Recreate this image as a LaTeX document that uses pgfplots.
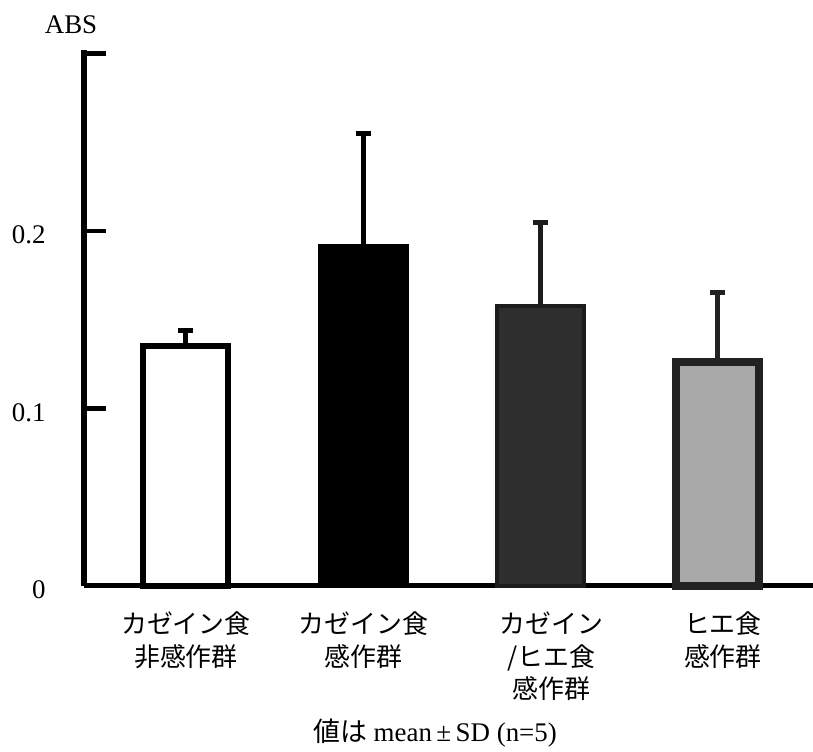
\documentclass[border=0pt]{standalone}
\usepackage{pgfplots}
\pgfplotsset{compat=1.18}
\usepackage{fontspec}
\setmainfont{Liberation Serif}
\newfontfamily\cjk{Noto Sans CJK JP}
\definecolor{darkfill}{HTML}{2E2E2E}
\definecolor{darkedge}{HTML}{1C1C1C}
\definecolor{lightfill}{HTML}{A9A9A9}
\definecolor{lightedge}{HTML}{222222}
\begin{document}
\begin{tikzpicture}
\useasboundingbox (0,0) rectangle (813bp,752bp);
\begin{axis}[
  at={(84bp,166bp)}, anchor=south west,
  x=177.3bp, y=1775bp,
  xmin=-0.575, xmax=3.536, ymin=0, ymax=0.302,
  axis x line*=bottom, axis y line*=left,
  axis line style={line width=5bp, -},
  clip=false,
  ytick={0,0.1,0.2,0.3}, yticklabels={0,0.1,0.2,},
  tick align=inside,
  major tick length=22bp,
  ytick style={line width=4.5bp, black},
  xtick={0,1,2,3},
  xtick style={draw=none},
  xticklabels={{カゼイン食\\非感作群},{カゼイン食\\感作群},{\hspace*{22bp}カゼイン\\\hspace*{22bp}/ヒエ食\\\hspace*{22bp}感作群},{\hspace*{10bp}ヒエ食\\\hspace*{10bp}感作群}},
  xticklabel style={font=\cjk\fontsize{26}{33}\selectfont, align=center, anchor=north, yshift=-22bp},
  yticklabel style={font=\fontsize{27}{30}\selectfont, anchor=east, xshift=-35bp, yshift=-4bp},
  /pgf/number format/assume math mode=true,
]
\addplot[ybar, bar width=85bp, bar shift=0pt, draw=black, fill=white, line width=6bp,
  error bars/.cd, y dir=plus, y explicit,
  error bar style={line width=5bp, black},
  error mark=|, error mark options={line width=5.5bp, mark size=7.5bp, black}]
  coordinates {(0,0.1352) +- (0,0.0087)};
\addplot[ybar, bar width=91bp, bar shift=0pt, draw=none, fill=black,
  error bars/.cd, y dir=plus, y explicit,
  error bar style={line width=5bp, black},
  error mark=|, error mark options={line width=5.5bp, mark size=7.5bp, black}]
  coordinates {(1,0.1927) +- (0,0.0622)};
\addplot[ybar, bar width=87bp, bar shift=0pt, draw=darkedge, fill=darkfill, line width=4bp,
  error bars/.cd, y dir=plus, y explicit,
  error bar style={line width=5bp, darkedge},
  error mark=|, error mark options={line width=5.5bp, mark size=7.5bp, darkedge}]
  coordinates {(2,0.1577) +- (0,0.0471)};
\addplot[ybar, bar width=83bp, bar shift=0pt, draw=lightedge, fill=lightfill, line width=8bp,
  error bars/.cd, y dir=plus, y explicit,
  error bar style={line width=5bp, lightedge},
  error mark=|, error mark options={line width=5.5bp, mark size=7.5bp, lightedge}]
  coordinates {(3,0.1262) +- (0,0.0392)};
\end{axis}
\node[font=\fontsize{27}{30}\selectfont] at (71bp,727bp) {ABS};
\node[font=\fontsize{27}{30}\selectfont] at (435bp,19bp) {{\cjk 値は} mean\,±\,SD (n=5)};
\end{tikzpicture}
\end{document}
